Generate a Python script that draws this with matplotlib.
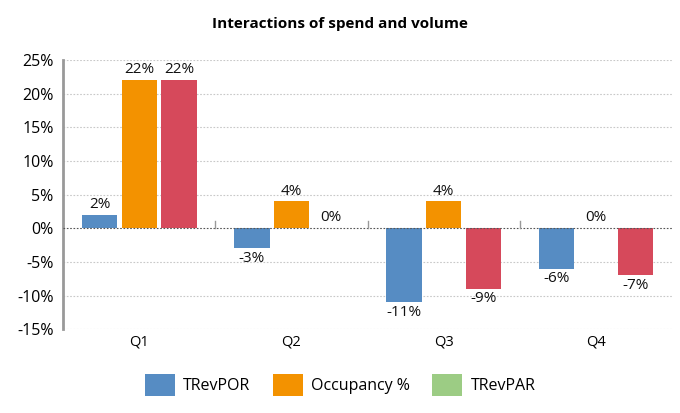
import matplotlib.pyplot as plt
import numpy as np
from matplotlib.patches import Patch

plt.rcParams['font.family'] = ['Open Sans', 'DejaVu Sans']

quarters = ["Q1", "Q2", "Q3", "Q4"]
series_names = ["TRevPOR", "Occupancy %", "TRevPAR"]
trevpor = [2, -3, -11, -6]
occupancy = [22, 4, 4, 0]
trevpar = [22, 0, -9, -7]
bar_colors = ["#568cc3", "#f39200", "#d6495b"]
legend_colors = ["#568cc3", "#f39200", "#9ccc84"]

fig = plt.figure(figsize=(6.8, 4.13), dpi=100)
ax = fig.add_axes([0.093, 0.203, 0.895, 0.652])

x = np.arange(len(quarters))
width = 0.232
gap = 0.028
offsets = [-(width + gap), 0, width + gap]

for vals, off, col in zip([trevpor, occupancy, trevpar], offsets, bar_colors):
    bars = ax.bar(x + off, vals, width, color=col, zorder=3)
    for b, v in zip(bars, vals):
        cx = b.get_x() + b.get_width() / 2
        if v >= 0:
            ax.text(cx, v + 0.4, f"{v}%", ha='center', va='bottom', fontsize=11, color='#111111')
        else:
            ax.text(cx, v - 0.4, f"{v}%", ha='center', va='top', fontsize=11, color='#111111')

ax.set_xlim(-0.5, len(quarters) - 0.5)
ax.set_ylim(-15, 25)
yt = np.arange(-15, 26, 5)
ax.set_yticks(yt)
ax.set_yticklabels([f"{v}%" for v in yt], fontsize=11.5)
ax.set_xticks(x)
ax.set_xticklabels(quarters, fontsize=10.5)
ax.tick_params(axis='x', length=0, pad=4)
ax.tick_params(axis='y', length=0, pad=7)

for v in yt:
    if v == 0:
        ax.axhline(v, color='#555555', lw=0.8, ls=(0, (1.5, 1.5)), zorder=4)
    else:
        ax.axhline(v, color='#c8c8c8', lw=0.8, ls=(0, (1.5, 1.5)), zorder=1)

# category separator ticks on the zero line
for sep in x[:-1] + 0.5:
    ax.plot([sep, sep], [0, 1.1], color='#999999', lw=1, zorder=4)

for s in ['top', 'right', 'bottom']:
    ax.spines[s].set_visible(False)
ax.spines['left'].set_color('#999999')
ax.spines['left'].set_linewidth(2)

fig.suptitle("Interactions of spend and volume", x=0.5, y=0.96, fontsize=11, fontweight='bold')

handles = [Patch(facecolor=c, edgecolor='none') for c in legend_colors]
fig.legend(handles, series_names, loc='center', bbox_to_anchor=(0.5, 0.068), ncol=3,
           frameon=False, fontsize=11.5, handlelength=1.9, handleheight=1.7,
           columnspacing=1.4, handletextpad=0.5)

fig.savefig('out.png', dpi=100)
